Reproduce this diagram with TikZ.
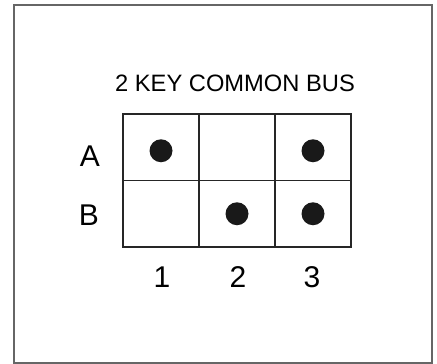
\documentclass[tikz,border=0pt]{standalone}
\usepackage{fontspec}
\setmainfont{Liberation Sans}
\usetikzlibrary{positioning}

\begin{document}
\begin{tikzpicture}[x=1pt,y=-1pt]

\def\cellw{76}
\def\cellh{66.5}
\def\gridx{123} % <-- left edge of the key grid
\def\gridy{114}

\tikzset{
    frame/.style={
        draw=black!60,
        line width=1.5pt
    },
    cellbox/.style={
        draw=black!85,
        line width=1.1pt,
        minimum width=\cellw*1pt,
        minimum height=\cellh*1pt,
        inner sep=0pt,
        outer sep=0pt
    },
    keydot/.style={
        circle,
        fill=black!90,
        minimum size=23pt,
        inner sep=0pt
    },
    keylabel/.style={
        font=\fontsize{30}{30}\selectfont,
        inner sep=0pt
    }
}

\useasboundingbox (0,0) rectangle (437,364);

% Outer frame
\draw[frame] (14,5) rectangle (432,363);

% Title
\node[font=\fontsize{23.7}{24}\selectfont, inner sep=0pt] (title) at (235,83)
    {2 KEY COMMON BUS};

% Grid of keys
\foreach \r/\ry in {A/0,B/1}{
    \foreach \c in {1,2,3}{
        \node[cellbox] (cell-\r\c) at ({\gridx+(\c-0.5)*\cellw},{\gridy+(\ry+0.5)*\cellh}) {};
    }
}

% Dots
\foreach \k/\dy in {A1/-3.5,A3/-3.5,B2/0,B3/0}{
    \node[keydot, yshift=\dy pt] (dot-\k) at (cell-\k) {};
}

% Row labels
\node[keylabel] (lbl-A) at (90,156) {A};
\node[keylabel] (lbl-B) at (89,215) {B};

% Column labels
\foreach \c/\cx in {1/162,2/238,3/312}{
    \node[keylabel] (col-\c) at (\cx,277) {\c};
}
\end{tikzpicture}
\end{document}
